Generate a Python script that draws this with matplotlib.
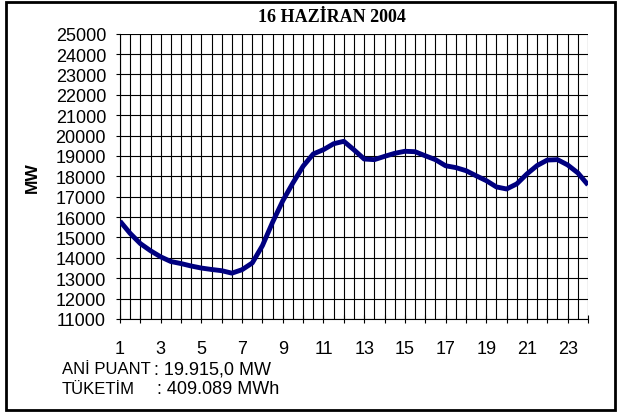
import matplotlib
matplotlib.use("Agg")
import matplotlib.pyplot as plt
from matplotlib.patches import Rectangle
from matplotlib.ticker import MultipleLocator

# saat (yarim saatlik okuma) ve yuk degerleri, MW
saat = [1, 1.5, 2, 2.5, 3, 3.5, 4, 4.5, 5, 5.5, 6, 6.5, 7, 7.5, 8, 8.5, 9, 9.5,
        10, 10.5, 11, 11.5, 12, 12.5, 13, 13.5, 14, 14.5, 15, 15.5, 16, 16.5,
        17, 17.5, 18, 18.5, 19, 19.5, 20, 20.5, 21, 21.5, 22, 22.5, 23, 23.5, 24]
yuk = [15800, 15200, 14700, 14350, 14050, 13820, 13720, 13600, 13500, 13430,
       13370, 13250, 13420, 13750, 14600, 15750, 16800, 17680, 18500, 19100,
       19310, 19600, 19720, 19300, 18850, 18820, 18980, 19130, 19230, 19210,
       19010, 18820, 18520, 18430, 18280, 18030, 17790, 17480, 17380, 17630,
       18120, 18530, 18800, 18820, 18560, 18170, 17580]

x_etiket = [1, 3, 5, 7, 9, 11, 13, 15, 17, 19, 21, 23]
baslik = "16 HAZİRAN 2004"

plt.rcParams['font.family'] = ['Liberation Sans', 'DejaVu Sans']

fig = plt.figure(figsize=(6.29, 4.14), dpi=100)
ax = fig.add_axes([120 / 629, 1 - 320 / 414, 468 / 629, 285.3 / 414])

ax.plot(saat, yuk, color='#000080', lw=3.5, solid_capstyle='butt', zorder=3)

ax.set_xlim(1, 24)
ax.set_ylim(11000, 25000)
ax.set_xticks(x_etiket)
ax.xaxis.set_minor_locator(MultipleLocator(1))
ax.yaxis.set_major_locator(MultipleLocator(1000))

# izgara: yatay her 1000 MW, dikey her yarim saat
for v in range(11000, 25001, 1000):
    ax.axhline(v, color='black', lw=0.8, zorder=1)
v = 1.0
while v <= 24.001:
    ax.axvline(v, color='black', lw=0.8, zorder=1)
    v += 0.5

for s in ['top', 'right']:
    ax.spines[s].set_visible(False)
ax.spines['left'].set_linewidth(0.8)
ax.spines['bottom'].set_linewidth(0.8)

ax.tick_params(axis='y', direction='out', length=3, width=0.8, pad=7, labelsize=13)
ax.tick_params(axis='x', which='both', direction='inout', length=6, width=0.8,
               pad=12, labelsize=13)

ax.set_ylabel('MW', fontsize=12.5, fontweight='bold')
ax.yaxis.set_label_coords(-0.172, 0.5)

fig.text(332 / 629, 1 - 17 / 414, baslik, ha='center', va='center',
         fontsize=13, fontweight='bold', family='Liberation Serif')

fig.text(62 / 629, 1 - 370 / 414, 'ANİ PUANT', ha='left', va='center', fontsize=12)
fig.text(154 / 629, 1 - 370 / 414, ': 19.915,0 MW', ha='left', va='center', fontsize=13)
fig.text(62 / 629, 1 - 390 / 414, 'TÜKETİM', ha='left', va='center', fontsize=12)
fig.text(157 / 629, 1 - 390 / 414, ': 409.089 MWh', ha='left', va='center', fontsize=13)

# cerceve
fig.patches.append(Rectangle((6 / 629, 3 / 414), 609 / 629, 408 / 414,
                             transform=fig.transFigure, fill=False,
                             edgecolor='black', lw=2))

fig.savefig('out.png', dpi=100)
